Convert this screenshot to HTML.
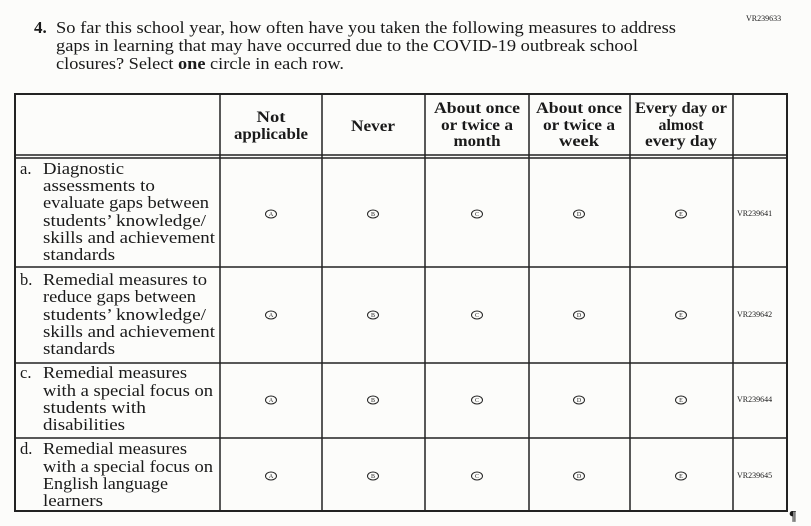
<!DOCTYPE html>
<html><head><meta charset="utf-8"><style>
html,body{margin:0;padding:0;background:#fcfcfa;}
svg{display:block;}
text{font-family:"Liberation Serif",serif;fill:#1a1a1a;}
.h{font-weight:bold;font-size:16px;text-anchor:middle;}
.r{font-size:16.5px;}
.vr{font-size:8px;}
.c{font-size:6px;text-anchor:middle;}
</style></head><body>
<svg width="811" height="526" viewBox="0 0 811 526" xmlns="http://www.w3.org/2000/svg">
<rect width="811" height="526" fill="#fcfcfa"/>
<text x="746" y="21" class="vr">VR239633</text>
<text x="34" y="33" style="font-size:17px;font-weight:bold">4.</text>
<text x="56" y="33" style="font-size:17px" textLength="620" lengthAdjust="spacingAndGlyphs">So far this school year, how often have you taken the following measures to address</text>
<text x="56" y="51" style="font-size:17px" textLength="582" lengthAdjust="spacingAndGlyphs">gaps in learning that may have occurred due to the COVID-19 outbreak school</text>
<text x="56" y="69" style="font-size:17px" textLength="288" lengthAdjust="spacingAndGlyphs">closures? Select <tspan font-weight="bold">one</tspan> circle in each row.</text>

<g stroke="#222" fill="none">
<rect x="15" y="94" width="772" height="417" stroke-width="2"/>
<line x1="15" y1="155" x2="787" y2="155" stroke-width="1.5"/>
<line x1="15" y1="158" x2="787" y2="158" stroke-width="1.5"/>
<line x1="15" y1="267" x2="787" y2="267" stroke-width="1.5"/>
<line x1="15" y1="363" x2="787" y2="363" stroke-width="1.5"/>
<line x1="15" y1="438" x2="787" y2="438" stroke-width="1.5"/>
<line x1="220" y1="94" x2="220" y2="511" stroke-width="1.5"/>
<line x1="322" y1="94" x2="322" y2="511" stroke-width="1.5"/>
<line x1="425" y1="94" x2="425" y2="511" stroke-width="1.5"/>
<line x1="529" y1="94" x2="529" y2="511" stroke-width="1.5"/>
<line x1="630" y1="94" x2="630" y2="511" stroke-width="1.5"/>
<line x1="733" y1="94" x2="733" y2="511" stroke-width="1.5"/>
</g>

<text class="h" x="271" y="122" textLength="29" lengthAdjust="spacingAndGlyphs">Not</text>
<text class="h" x="271" y="139" textLength="74" lengthAdjust="spacingAndGlyphs">applicable</text>
<text class="h" x="373" y="131" textLength="44" lengthAdjust="spacingAndGlyphs">Never</text>
<text class="h" x="477" y="113" textLength="86" lengthAdjust="spacingAndGlyphs">About once</text>
<text class="h" x="477" y="130" textLength="72" lengthAdjust="spacingAndGlyphs">or twice a</text>
<text class="h" x="477" y="146" textLength="47" lengthAdjust="spacingAndGlyphs">month</text>
<text class="h" x="579" y="113" textLength="86" lengthAdjust="spacingAndGlyphs">About once</text>
<text class="h" x="579" y="130" textLength="72" lengthAdjust="spacingAndGlyphs">or twice a</text>
<text class="h" x="579" y="146" textLength="40" lengthAdjust="spacingAndGlyphs">week</text>
<text class="h" x="681" y="113" textLength="92" lengthAdjust="spacingAndGlyphs">Every day or</text>
<text class="h" x="681" y="130" textLength="45" lengthAdjust="spacingAndGlyphs">almost</text>
<text class="h" x="681" y="146" textLength="72" lengthAdjust="spacingAndGlyphs">every day</text>

<g>
<text class="r" x="20" y="174">a.</text>
<text class="r" x="43" y="174" textLength="81" lengthAdjust="spacingAndGlyphs">Diagnostic</text>
<text class="r" x="43" y="191" textLength="112" lengthAdjust="spacingAndGlyphs">assessments to</text>
<text class="r" x="43" y="208" textLength="166" lengthAdjust="spacingAndGlyphs">evaluate gaps between</text>
<text class="r" x="43" y="226" textLength="163" lengthAdjust="spacingAndGlyphs">students’ knowledge/</text>
<text class="r" x="43" y="243" textLength="172" lengthAdjust="spacingAndGlyphs">skills and achievement</text>
<text class="r" x="43" y="260" textLength="72" lengthAdjust="spacingAndGlyphs">standards</text>

<text class="r" x="20" y="285">b.</text>
<text class="r" x="43" y="285" textLength="164" lengthAdjust="spacingAndGlyphs">Remedial measures to</text>
<text class="r" x="43" y="302" textLength="153" lengthAdjust="spacingAndGlyphs">reduce gaps between</text>
<text class="r" x="43" y="320" textLength="163" lengthAdjust="spacingAndGlyphs">students’ knowledge/</text>
<text class="r" x="43" y="337" textLength="172" lengthAdjust="spacingAndGlyphs">skills and achievement</text>
<text class="r" x="43" y="354" textLength="72" lengthAdjust="spacingAndGlyphs">standards</text>

<text class="r" x="20" y="378">c.</text>
<text class="r" x="43" y="378" textLength="144" lengthAdjust="spacingAndGlyphs">Remedial measures</text>
<text class="r" x="43" y="396" textLength="170" lengthAdjust="spacingAndGlyphs">with a special focus on</text>
<text class="r" x="43" y="413" textLength="103" lengthAdjust="spacingAndGlyphs">students with</text>
<text class="r" x="43" y="430" textLength="82" lengthAdjust="spacingAndGlyphs">disabilities</text>

<text class="r" x="20" y="454">d.</text>
<text class="r" x="43" y="454" textLength="144" lengthAdjust="spacingAndGlyphs">Remedial measures</text>
<text class="r" x="43" y="472" textLength="170" lengthAdjust="spacingAndGlyphs">with a special focus on</text>
<text class="r" x="43" y="489" textLength="125" lengthAdjust="spacingAndGlyphs">English language</text>
<text class="r" x="43" y="506" textLength="60" lengthAdjust="spacingAndGlyphs">learners</text>
</g>

<g stroke="#222" stroke-width="1" fill="none">
<ellipse cx="271" cy="214" rx="5.5" ry="4"/><ellipse cx="373" cy="214" rx="5.5" ry="4"/><ellipse cx="477" cy="214" rx="5.5" ry="4"/><ellipse cx="579" cy="214" rx="5.5" ry="4"/><ellipse cx="681" cy="214" rx="5.5" ry="4"/>
<ellipse cx="271" cy="315" rx="5.5" ry="4"/><ellipse cx="373" cy="315" rx="5.5" ry="4"/><ellipse cx="477" cy="315" rx="5.5" ry="4"/><ellipse cx="579" cy="315" rx="5.5" ry="4"/><ellipse cx="681" cy="315" rx="5.5" ry="4"/>
<ellipse cx="271" cy="400" rx="5.5" ry="4"/><ellipse cx="373" cy="400" rx="5.5" ry="4"/><ellipse cx="477" cy="400" rx="5.5" ry="4"/><ellipse cx="579" cy="400" rx="5.5" ry="4"/><ellipse cx="681" cy="400" rx="5.5" ry="4"/>
<ellipse cx="271" cy="476" rx="5.5" ry="4"/><ellipse cx="373" cy="476" rx="5.5" ry="4"/><ellipse cx="477" cy="476" rx="5.5" ry="4"/><ellipse cx="579" cy="476" rx="5.5" ry="4"/><ellipse cx="681" cy="476" rx="5.5" ry="4"/>
</g>
<g>
<text class="c" x="271" y="216">A</text><text class="c" x="373" y="216">B</text><text class="c" x="477" y="216">C</text><text class="c" x="579" y="216">D</text><text class="c" x="681" y="216">E</text>
<text class="c" x="271" y="317">A</text><text class="c" x="373" y="317">B</text><text class="c" x="477" y="317">C</text><text class="c" x="579" y="317">D</text><text class="c" x="681" y="317">E</text>
<text class="c" x="271" y="402">A</text><text class="c" x="373" y="402">B</text><text class="c" x="477" y="402">C</text><text class="c" x="579" y="402">D</text><text class="c" x="681" y="402">E</text>
<text class="c" x="271" y="478">A</text><text class="c" x="373" y="478">B</text><text class="c" x="477" y="478">C</text><text class="c" x="579" y="478">D</text><text class="c" x="681" y="478">E</text>
</g>
<text class="vr" x="737" y="216">VR239641</text>
<text class="vr" x="737" y="317">VR239642</text>
<text class="vr" x="737" y="402">VR239644</text>
<text class="vr" x="737" y="478">VR239645</text>
<text x="789" y="520" style="font-size:14px;font-weight:bold">¶</text>
</svg>
</body></html>
